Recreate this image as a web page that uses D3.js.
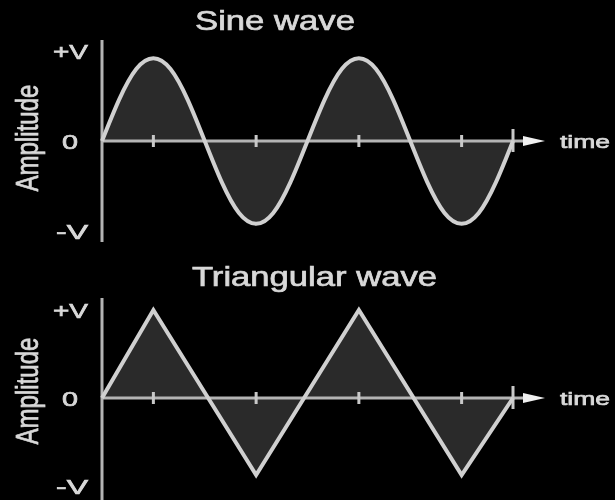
<!DOCTYPE html>
<html>
<head>
<meta charset="utf-8">
<script src="https://cdn.jsdelivr.net/npm/d3@7"></script>
<style>
  html, body { margin: 0; padding: 0; background: #000; }
  svg { display: block; }
  text { font-family: "Liberation Sans", Arial, sans-serif; fill: #d8d8d8; stroke: #d8d8d8; stroke-width: 0.7px; }
</style>
</head>
<body>
<svg id="chart" width="615" height="500"></svg>
<script>
// ---- data (time in degrees of phase, amplitude in units of V) ----
const sineTime = [0,30,60,90,120,150,180,210,240,270,300,330,360,390,420,450,480,510,540,570,600,630,660,690,720];
const sineAmp  = [0,0.46,0.80,0.92,0.80,0.46,0,-0.46,-0.80,-0.92,-0.80,-0.46,0,0.46,0.80,0.92,0.80,0.46,0,-0.46,-0.80,-0.92,-0.80,-0.46,0];
const triTime  = [0,90,270,450,630,720];
const triAmp   = [0,1,-0.875,1,-0.875,0];
const tickTimes = [90,270,450,630];
const endTime = 720;
const yLabels = ["+V","0","-V"];
const yLabelValues = [1,0,-1];
const titles = ["Sine wave","Triangular wave"];
const yTitle = "Amplitude";
const xTitle = "time";

const svg = d3.select("#chart");
svg.append("rect").attr("width",615).attr("height",500).attr("fill","#000");
const defs = svg.append("defs");
defs.append("filter").attr("id","soft").attr("x","-5%").attr("y","-5%").attr("width","110%").attr("height","110%")
  .append("feGaussianBlur").attr("stdDeviation",0.7);
const root = svg.append("g").attr("filter","url(#soft)");

const x = d3.scaleLinear().domain([0,endTime]).range([102,513]);

const panels = [
  { title: titles[0], titleY: 30, titleX: 195, titleLen: 160,
    y: d3.scaleLinear().domain([-1,1]).range([231,51]),
    axisTop: 40, axisBottom: 242,
    data: sineTime.map((t,i)=>({t, v: sineAmp[i]})), curve: d3.curveNatural,
    ampY: 138 },
  { title: titles[1], titleY: 286, titleX: 192, titleLen: 245,
    y: d3.scaleLinear().domain([-1,1]).range([486,310]),
    axisTop: 298, axisBottom: 500,
    data: triTime.map((t,i)=>({t, v: triAmp[i]})), curve: d3.curveLinear,
    ampY: 391 }
];

const labelLens = [35, 16, 32];

panels.forEach(p => {
  const g = root.append("g");
  const y0 = p.y(0);

  // title
  g.append("text").attr("x", p.titleX).attr("y", p.titleY)
    .attr("font-size", 28).attr("textLength", p.titleLen).attr("lengthAdjust","spacingAndGlyphs")
    .text(p.title);

  // filled area between wave and zero line
  g.append("path").datum(p.data)
    .attr("fill", "#2b2b2b")
    .attr("d", d3.area().x(d=>x(d.t)).y0(y0).y1(d=>p.y(d.v)).curve(p.curve));

  // vertical amplitude axis
  g.append("line").attr("x1", x(0)).attr("x2", x(0))
    .attr("y1", p.axisTop).attr("y2", p.axisBottom)
    .attr("stroke", "#b4b4b4").attr("stroke-width", 3);

  // time axis (zero line) with arrow
  g.append("line").attr("x1", x(0)).attr("x2", x(endTime) + 14)
    .attr("y1", y0).attr("y2", y0)
    .attr("stroke", "#b4b4b4").attr("stroke-width", 3);
  const ax = x(endTime);
  g.append("path")
    .attr("d", `M${ax+10},${y0-5} L${ax+32},${y0} L${ax+10},${y0+5} Z`)
    .attr("fill", "#f0f0f0");

  // small ticks
  g.selectAll(".tick").data(tickTimes).enter().append("line")
    .attr("x1", d=>x(d)).attr("x2", d=>x(d))
    .attr("y1", y0-6).attr("y2", y0+6)
    .attr("stroke", "#c8c8c8").attr("stroke-width", 3);
  // end tick
  g.append("line").attr("x1", ax).attr("x2", ax)
    .attr("y1", y0-12).attr("y2", y0+11)
    .attr("stroke", "#c8c8c8").attr("stroke-width", 3);

  // wave line
  g.append("path").datum(p.data)
    .attr("fill", "none").attr("stroke", "#d0d0d0").attr("stroke-width", 4)
    .attr("stroke-linejoin", "miter")
    .attr("d", d3.line().x(d=>x(d.t)).y(d=>p.y(d.v)).curve(p.curve));

  // y labels
  yLabelValues.forEach((v,i) => {
    g.append("text").attr("x", 88 - (i===1 ? 10 : 0)).attr("y", p.y(v) + 7.5)
      .attr("text-anchor", "end").attr("font-size", 21)
      .attr("textLength", labelLens[i]).attr("lengthAdjust","spacingAndGlyphs")
      .text(yLabels[i]);
  });

  // Amplitude title
  g.append("text").attr("transform", `translate(38,${p.ampY}) rotate(-90)`)
    .attr("text-anchor", "middle").attr("font-size", 31)
    .attr("textLength", 107).attr("lengthAdjust","spacingAndGlyphs")
    .text(yTitle);

  // time label
  g.append("text").attr("x", 560).attr("y", y0 + 7)
    .attr("font-size", 19).attr("textLength", 50).attr("lengthAdjust","spacingAndGlyphs")
    .text(xTitle);
});
</script>
</body>
</html>
